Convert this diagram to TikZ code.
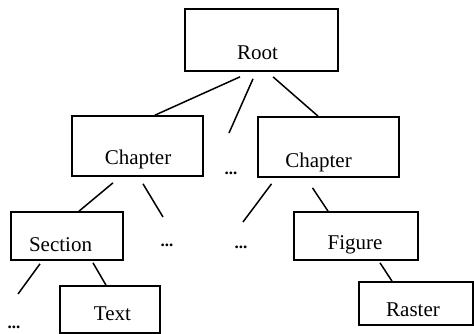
\documentclass[tikz,border=0pt]{standalone}
\usepackage{fontspec}
\setmainfont{Liberation Serif}
\begin{document}
\begin{tikzpicture}[x=1pt,y=-1pt,
  box/.style={draw,line width=1.7pt,inner sep=0pt,minimum width=#1},
  lbl/.style={font=\fontsize{21}{24}\selectfont,inner sep=0pt},
  edge/.style={line width=1.5pt},
  dots/.style={font=\fontsize{17}{19}\selectfont\bfseries,inner sep=0pt}]
\useasboundingbox (0,0) rectangle (474,334);
% boxes
\node[box=153pt,minimum height=62pt] (root) at (261.5,40) {};
\node[box=131pt,minimum height=60pt] (ch1) at (137.5,146) {};
\node[box=141pt,minimum height=60pt] (ch2) at (328.5,147) {};
\node[box=112pt,minimum height=48pt] (sec) at (67,236) {};
\node[box=124pt,minimum height=48pt] (fig) at (356,236) {};
\node[box=100pt,minimum height=47pt] (txt) at (110,309.5) {};
\node[box=114pt,minimum height=43pt] (ras) at (416,303.5) {};
% labels
\node[lbl] (rootl) at (257.5,53) {Root};
\node[lbl] (ch1l) at (138,159) {Chapter};
\node[lbl] (ch2l) at (318.5,162) {Chapter};
\node[lbl] (secl) at (60.5,245) {Section};
\node[lbl] (figl) at (355,245) {Figure};
\node[lbl] (txtl) at (112.5,314) {Text};
\node[lbl] (rasl) at (413,310) {Raster};
% dots
\node[dots] (d1) at (231,173) {...};
\node[dots] (d2) at (167,245) {...};
\node[dots] (d3) at (241,247) {...};
\node[dots] (d4) at (14,327) {...};
% free ends
\coordinate (f1) at (229,133);
\coordinate (f2) at (163,217);
\coordinate (f3) at (243,222);
\coordinate (f4) at (18,294);
% connectors
\draw[edge] ([xshift=-21.5pt,yshift=-5pt]root.south) -- ([xshift=17.5pt]ch1.north);
\draw[edge] ([xshift=-8.5pt,yshift=-7pt]root.south) -- (f1);
\draw[edge] ([xshift=11.5pt,yshift=-5pt]root.south) -- ([xshift=-10.5pt]ch2.north);
\draw[edge] ([xshift=-24.5pt,yshift=-6pt]ch1.south) -- ([xshift=12pt]sec.north);
\draw[edge] ([xshift=5.5pt,yshift=-7pt]ch1.south) -- (f2);
\draw[edge] ([xshift=-57pt,yshift=-6pt]ch2.south) -- (f3);
\draw[edge] ([xshift=-16pt,yshift=-10pt]ch2.south) -- ([xshift=-28pt]fig.north);
\draw[edge] ([xshift=24pt,yshift=-2pt]fig.south) -- ([xshift=-24pt]ras.north);
\draw[edge] ([xshift=-27pt,yshift=-3pt]sec.south) -- (f4);
\draw[edge] ([xshift=26pt,yshift=-2pt]sec.south) -- ([xshift=-4pt]txt.north);
\end{tikzpicture}
\end{document}
